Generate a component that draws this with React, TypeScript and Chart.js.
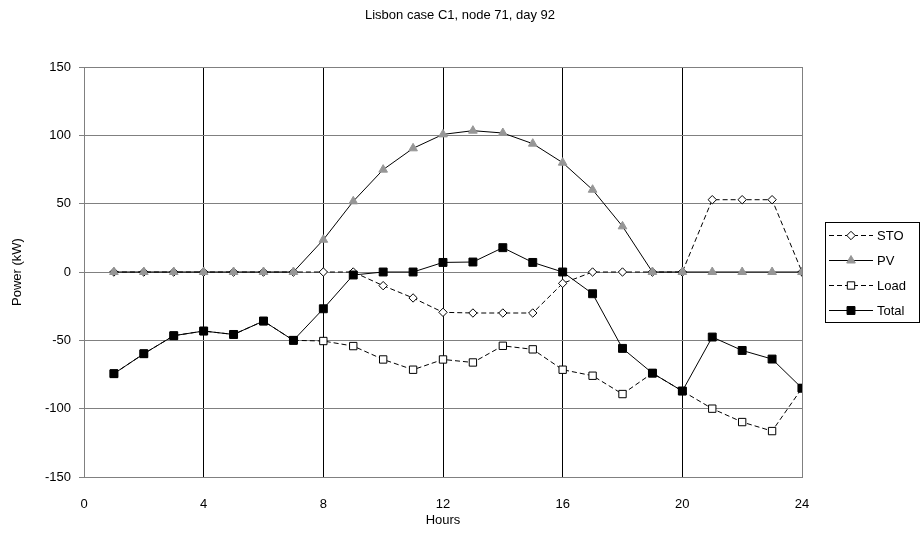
import React, { useEffect, useRef } from "react";
import { Chart, registerables } from "chart.js";

Chart.register(...registerables);

const TITLE = "Lisbon case C1, node 71, day 92";
const X_TITLE = "Hours";
const Y_TITLE = "Power (kW)";

const hours = [1, 2, 3, 4, 5, 6, 7, 8, 9, 10, 11, 12, 13, 14, 15, 16, 17, 18, 19, 20, 21, 22, 23, 24];
const sto = [0, 0, 0, 0, 0, 0, 0, 0, 0, -10, -19, -29.5, -30, -30, -30, -8.3, 0, 0, 0, 0, 52.9, 52.9, 52.9, 0];
const pv = [0, 0, 0, 0, 0, 0, 0, 23.6, 51.7, 74.9, 90.5, 100.7, 103.4, 101.7, 93.9, 80, 60.2, 33.4, 0, 0, 0, 0, 0, 0];
const load = [-74.4, -59.8, -46.6, -43.2, -45.7, -35.9, -50, -50.5, -54.2, -64, -71.5, -64, -66.2, -54, -56.6, -71.5, -75.9, -89.3, -74, -87.1, -100, -109.8, -116.4, -85];
const total = [-74.4, -59.8, -46.6, -43.2, -45.7, -35.9, -50, -26.9, -2.2, 0, 0, 7, 7.3, 17.8, 7, 0, -15.9, -55.9, -74, -87.1, -47.6, -57.4, -63.7, -85];

const seriesNames = ["STO", "PV", "Load", "Total"];

const FONT = '"Liberation Sans", Arial, sans-serif';
const DASH = [5, 3];

type Sty = { dash: number[]; marker: string; fill: string; stroke: string; r: number };
const styles: Sty[] = [
  { dash: DASH, marker: "diamond", fill: "#ffffff", stroke: "#000000", r: 4.2 },
  { dash: [], marker: "triangle", fill: "#969696", stroke: "#969696", r: 5 },
  { dash: DASH, marker: "square", fill: "#ffffff", stroke: "#000000", r: 5.2 },
  { dash: [], marker: "square", fill: "#000000", stroke: "#000000", r: 5.6 },
];

function drawMarker(ctx: CanvasRenderingContext2D, s: Sty, x: number, y: number) {
  ctx.save();
  ctx.setLineDash([]);
  ctx.beginPath();
  if (s.marker === "diamond") {
    ctx.moveTo(x - s.r, y);
    ctx.lineTo(x, y - s.r);
    ctx.lineTo(x + s.r, y);
    ctx.lineTo(x, y + s.r);
    ctx.closePath();
  } else if (s.marker === "triangle") {
    const h = s.r;
    ctx.moveTo(x, y - h);
    ctx.lineTo(x + h * 0.866, y + h * 0.5);
    ctx.lineTo(x - h * 0.866, y + h * 0.5);
    ctx.closePath();
  } else {
    const a = s.r * Math.SQRT1_2;
    ctx.rect(x - a, y - a, 2 * a, 2 * a);
  }
  ctx.fillStyle = s.fill;
  ctx.fill();
  ctx.strokeStyle = s.stroke;
  ctx.lineWidth = 1;
  ctx.stroke();
  ctx.restore();
}

const customPlugin = {
  id: "customDecor",
  afterDraw(chart: any) {
    const ctx: CanvasRenderingContext2D = chart.ctx;
    ctx.save();
    ctx.fillStyle = "#000";
    ctx.font = `13px ${FONT}`;
    ctx.textAlign = "center";
    ctx.textBaseline = "middle";
    ctx.fillText(TITLE, 460, 15);

    // legend
    const bx = 825.5, by = 222.5, bw = 94, bh = 100;
    ctx.fillStyle = "#fff";
    ctx.fillRect(bx, by, bw, bh);
    ctx.strokeStyle = "#000";
    ctx.lineWidth = 1;
    ctx.strokeRect(bx, by, bw, bh);
    ctx.textAlign = "left";
    ctx.font = `13px ${FONT}`;
    for (let i = 0; i < seriesNames.length; i++) {
      const s = styles[i];
      const y = 235 + i * 25;
      ctx.beginPath();
      ctx.setLineDash(s.dash);
      ctx.strokeStyle = "#000";
      ctx.moveTo(829, y + 0.5);
      ctx.lineTo(873, y + 0.5);
      ctx.stroke();
      ctx.setLineDash([]);
      drawMarker(ctx, s, 851, y + 0.5);
      ctx.fillStyle = "#000";
      ctx.fillText(seriesNames[i], 877, y + 1);
    }
    ctx.restore();
  },
};

export default function App() {
  const ref = useRef<HTMLCanvasElement | null>(null);
  useEffect(() => {
    if (!ref.current) return;
    const mk = (arr: number[]) => hours.map((h, i) => ({ x: h, y: arr[i] }));
    const pointStyleOf = (m: string) => (m === "diamond" ? "rectRot" : m === "triangle" ? "triangle" : "rect");
    const seriesData = [sto, pv, load, total];
    const orders = [3, 2, 1, 0];
    const datasets = seriesData.map((arr, i) => {
      const s = styles[i];
      return {
        label: seriesNames[i],
        data: mk(arr),
        borderColor: "#000000",
        borderWidth: 1,
        borderDash: s.dash,
        backgroundColor: s.fill,
        pointStyle: pointStyleOf(s.marker),
        pointRadius: s.r,
        pointBackgroundColor: s.fill,
        pointBorderColor: s.stroke,
        pointBorderWidth: 1,
        tension: 0,
        fill: false,
        order: orders[i],
      };
    });
    const chart = new Chart(ref.current, {
      type: "line",
      data: { datasets },
      options: {
        animation: false,
        responsive: false,
        maintainAspectRatio: false,
        layout: { padding: { top: 67, right: 119, bottom: 0, left: 0 } },
        plugins: {
          legend: { display: false },
          title: { display: false },
          tooltip: { enabled: false },
        },
        scales: {
          x: {
            type: "linear",
            min: 0,
            max: 24,
            ticks: { stepSize: 4, color: "#000", font: { family: FONT, size: 13 }, padding: 20, maxRotation: 0 },
            grid: {
              color: (c: any) => (c.tick && c.tick.value === 24 ? "#808080" : "#000000"),
              lineWidth: 1,
              drawTicks: false,
            },
            border: { color: "#808080", width: 1 },
            title: { display: true, text: X_TITLE, color: "#000", font: { family: FONT, size: 13 }, padding: { top: 0, bottom: 15 } },
            afterFit: (scale: any) => {
              scale.height = 66;
            },
          },
          y: {
            min: -150,
            max: 150,
            ticks: { stepSize: 50, color: "#000", font: { family: FONT, size: 13 }, padding: 8 },
            grid: { color: "#808080", lineWidth: 1, drawTicks: true, tickLength: 5 },
            border: { color: "#808080", width: 1 },
            title: { display: true, text: Y_TITLE, color: "#000", font: { family: FONT, size: 13 }, padding: { top: 10, bottom: 0 } },
            afterFit: (scale: any) => {
              scale.width = 84;
            },
          },
        },
      },
      plugins: [customPlugin],
    } as any);
    return () => chart.destroy();
  }, []);
  return (
    <div style={{ position: "fixed", left: 0, top: 0, width: 921, height: 543, background: "#fff" }}>
      <canvas ref={ref} width={921} height={543} style={{ width: 921, height: 543, display: "block" }} />
    </div>
  );
}
